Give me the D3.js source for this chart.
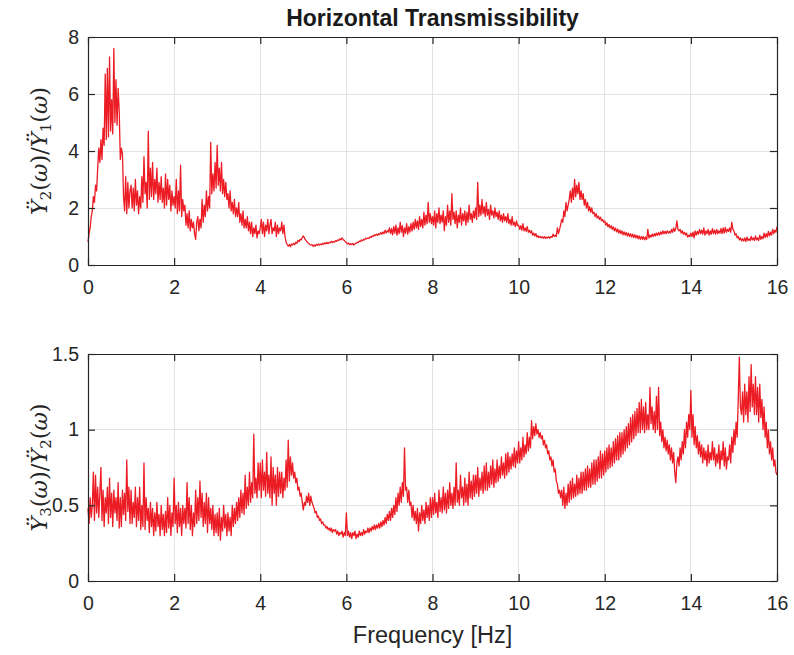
<!DOCTYPE html>
<html><head><meta charset="utf-8">
<script src="https://cdn.jsdelivr.net/npm/d3@7"></script>
<style>body{margin:0;background:#fff}</style>
</head><body>
<svg id="c" width="794" height="655"></svg>
<script>
// Frequency range [Hz]; samples are evenly spaced over it (0.025 Hz)
const freqRange = [0, 16];
// Top: Y2/Y1 transmissibility
const trans21 = [
0.8,1.1,1.3,1.7,1.9,2.4,2.2,2.8,2.6,3.4,
4.1,3.6,4.4,3.7,4.8,4.2,6.7,4.4,6.9,4.5,
7.3,4.7,5.8,4.6,7.6,5.0,6.5,4.9,6.2,5.4,
3.7,4.1,3.9,2.4,1.9,3.1,1.8,2.9,2.0,2.6,
2.8,2.0,2.7,1.9,3.0,2.1,2.6,1.8,2.4,2.0,
3.1,2.2,3.8,2.5,2.9,2.0,4.7,2.3,3.4,2.4,
3.6,2.3,3.0,2.5,3.4,2.2,2.9,2.3,3.1,2.2,
2.7,2.0,3.2,2.1,3.0,2.3,2.8,1.9,2.6,2.1,
2.4,2.0,3.0,1.8,2.6,1.9,3.5,1.7,2.3,1.9,
2.1,1.4,1.8,1.3,1.9,1.2,1.6,1.3,1.5,1.1,
0.9,1.5,1.7,1.2,1.6,1.3,2.3,1.5,2.1,1.7,
2.6,1.9,2.4,2.0,4.3,2.5,3.2,2.6,3.6,2.7,
4.2,2.8,3.4,2.6,3.6,2.5,3.0,2.4,2.9,2.3,
2.5,2.0,2.6,1.9,2.2,1.8,2.3,1.7,2.0,1.7,
2.2,1.5,1.8,1.4,1.9,1.3,1.6,1.3,1.7,1.2,
1.5,1.1,1.5,1.0,1.3,1.1,1.4,0.95,1.2,1.1,
1.3,1.6,1.1,1.5,1.0,1.4,1.2,1.6,1.1,1.4,
1.6,1.1,1.3,1.2,1.5,1.0,1.4,1.1,1.3,1.2,
1.5,1.1,1.4,1.0,0.8,0.72,0.66,0.72,0.64,0.74,
0.7,0.76,0.72,0.8,0.76,0.86,0.82,0.9,0.88,0.96,
1.02,0.95,0.88,0.84,0.78,0.76,0.72,0.7,0.72,0.66,
0.7,0.66,0.72,0.69,0.74,0.7,0.73,0.71,0.76,0.73,
0.78,0.74,0.79,0.75,0.8,0.78,0.83,0.79,0.82,0.8,
0.86,0.83,0.88,0.86,0.92,0.88,0.95,0.9,0.86,0.82,
0.78,0.74,0.77,0.71,0.75,0.72,0.76,0.7,0.74,0.76,
0.8,0.78,0.84,0.82,0.88,0.85,0.9,0.88,0.94,0.92,
0.95,0.93,0.99,0.97,1.02,1.0,1.06,1.03,1.08,1.04,
1.1,1.07,1.14,1.08,1.16,1.1,1.22,1.12,1.2,1.16,
1.3,1.1,1.28,1.06,1.35,1.12,1.4,1.05,1.3,1.1,
1.5,1.15,1.38,1.0,1.3,1.12,1.45,1.08,1.35,1.15,
1.45,1.2,1.5,1.25,1.6,1.3,1.55,1.25,1.7,1.35,
1.6,1.3,1.85,1.4,1.75,1.45,2.2,1.5,1.8,1.45,
1.7,1.4,1.9,1.3,1.8,1.5,2.0,1.45,1.75,1.5,
1.9,1.2,1.7,1.4,2.1,1.5,1.9,1.4,2.5,1.6,
1.85,1.45,1.9,1.3,1.75,1.5,2.0,1.4,1.8,1.55,
1.9,1.4,1.85,1.5,2.1,1.6,1.8,1.5,1.9,1.65,
2.0,1.6,2.9,1.7,2.1,1.75,2.3,1.8,2.05,1.7,
2.2,1.75,1.95,1.6,2.1,1.75,1.9,1.65,2.0,1.7,
1.85,1.6,1.9,1.55,1.75,1.5,1.8,1.55,1.7,1.5,
1.8,1.45,1.6,1.4,1.7,1.4,1.5,1.35,1.55,1.38,
1.4,1.25,1.38,1.22,1.45,1.2,1.3,1.18,1.35,1.15,
1.22,1.12,1.2,1.05,1.12,1.02,1.1,0.98,1.03,0.96,
1.0,0.95,0.99,0.94,1.0,0.93,0.98,0.95,0.99,0.94,
1.0,0.97,1.08,1.0,1.05,1.0,1.3,1.1,1.25,1.4,
1.6,1.5,1.9,1.7,2.2,1.9,2.1,2.3,2.6,2.2,
2.7,2.3,3.0,2.4,2.8,2.5,2.9,2.3,2.6,2.3,
2.5,2.1,2.3,2.0,2.2,1.9,2.05,1.85,2.0,1.8,
1.85,1.7,1.8,1.65,1.72,1.6,1.68,1.55,1.6,1.5,
1.55,1.4,1.48,1.34,1.42,1.3,1.38,1.25,1.34,1.2,
1.3,1.16,1.26,1.12,1.22,1.1,1.2,1.06,1.16,1.05,
1.14,1.02,1.12,1.0,1.1,0.98,1.08,0.96,1.06,0.95,
1.04,0.92,1.02,0.9,1.0,0.9,1.0,0.88,0.98,0.9,
1.25,0.95,1.05,0.98,1.08,1.0,1.1,1.02,1.12,1.04,
1.14,1.05,1.16,1.08,1.2,1.1,1.18,1.1,1.2,1.12,
1.18,1.12,1.25,1.15,1.3,1.18,1.28,1.55,1.25,1.2,
1.25,1.12,1.2,1.08,1.15,1.05,1.12,0.98,1.05,1.0,
1.12,1.0,1.15,0.95,1.2,1.05,1.18,1.08,1.25,1.1,
1.22,1.08,1.3,1.05,1.2,1.1,1.25,1.05,1.2,1.08,
1.28,1.1,1.22,1.08,1.25,1.1,1.2,1.12,1.28,1.1,
1.3,1.12,1.32,1.15,1.25,1.18,1.3,1.15,1.5,1.25,
1.2,1.05,1.1,0.95,1.0,0.88,0.95,0.85,0.92,0.84,
0.95,0.82,0.98,0.86,0.92,0.85,1.0,0.88,0.95,0.86,
1.02,0.88,0.95,0.86,1.05,0.9,1.0,0.92,1.12,0.96,
1.1,0.98,1.18,1.02,1.15,1.05,1.25,1.1,1.22,1.15,
1.35
];
// Bottom: Y3/Y2 transmissibility
const trans32 = [
0.48,0.38,0.55,0.42,0.5,0.72,0.4,0.7,0.45,0.62,
0.42,0.58,0.75,0.4,0.6,0.36,0.55,0.45,0.62,0.38,
0.68,0.42,0.58,0.36,0.6,0.45,0.55,0.4,0.65,0.35,
0.55,0.36,0.6,0.44,0.58,0.4,0.8,0.46,0.62,0.38,
0.6,0.38,0.52,0.42,0.62,0.36,0.55,0.4,0.62,0.34,
0.5,0.36,0.78,0.34,0.55,0.4,0.48,0.32,0.52,0.36,
0.48,0.3,0.45,0.33,0.52,0.36,0.44,0.3,0.5,0.34,
0.44,0.3,0.46,0.32,0.55,0.35,0.5,0.3,0.45,0.36,
0.68,0.38,0.5,0.32,0.52,0.36,0.48,0.3,0.5,0.38,
0.48,0.35,0.65,0.38,0.55,0.34,0.5,0.3,0.45,0.36,
0.6,0.38,0.55,0.4,0.66,0.42,0.58,0.36,0.52,0.38,
0.58,0.32,0.55,0.38,0.48,0.34,0.5,0.3,0.44,0.32,
0.45,0.3,0.48,0.27,0.42,0.33,0.5,0.35,0.44,0.3,
0.45,0.33,0.42,0.3,0.5,0.36,0.48,0.38,0.52,0.4,
0.55,0.42,0.6,0.45,0.58,0.44,0.7,0.48,0.62,0.5,
0.72,0.52,0.65,0.55,0.97,0.58,0.68,0.55,0.78,0.6,
0.78,0.55,0.8,0.6,0.72,0.56,0.85,0.58,0.7,0.55,
0.82,0.5,0.75,0.58,0.7,0.5,0.75,0.56,0.72,0.58,
0.72,0.55,0.68,0.6,0.8,0.62,0.93,0.66,0.82,0.7,
0.78,0.68,0.72,0.65,0.68,0.6,0.62,0.56,0.58,0.52,
0.47,0.52,0.5,0.56,0.52,0.58,0.5,0.56,0.52,0.5,
0.48,0.45,0.46,0.42,0.43,0.4,0.41,0.38,0.39,0.37,
0.37,0.35,0.36,0.34,0.35,0.33,0.35,0.32,0.34,0.33,
0.34,0.31,0.33,0.3,0.32,0.31,0.33,0.29,0.32,0.3,
0.45,0.3,0.33,0.29,0.32,0.28,0.32,0.3,0.33,0.28,
0.31,0.29,0.33,0.3,0.32,0.3,0.34,0.31,0.33,0.32,
0.35,0.32,0.35,0.33,0.36,0.34,0.37,0.34,0.37,0.35,
0.38,0.35,0.39,0.36,0.4,0.37,0.42,0.38,0.44,0.4,
0.46,0.4,0.48,0.42,0.5,0.44,0.55,0.46,0.58,0.5,
0.62,0.52,0.65,0.56,0.88,0.6,0.62,0.52,0.6,0.5,
0.52,0.42,0.5,0.4,0.46,0.38,0.48,0.33,0.45,0.38,
0.5,0.4,0.47,0.38,0.52,0.42,0.5,0.4,0.55,0.42,
0.55,0.44,0.58,0.45,0.52,0.42,0.6,0.46,0.55,0.45,
0.62,0.47,0.58,0.45,0.6,0.48,0.65,0.5,0.58,0.48,
0.62,0.5,0.78,0.52,0.6,0.5,0.7,0.55,0.62,0.5,
0.68,0.52,0.64,0.5,0.72,0.55,0.66,0.54,0.7,0.56,
0.7,0.58,0.75,0.56,0.68,0.6,0.72,0.58,0.76,0.6,
0.78,0.6,0.72,0.62,0.76,0.64,0.8,0.62,0.74,0.65,
0.8,0.66,0.76,0.68,0.82,0.7,0.78,0.68,0.84,0.7,
0.85,0.72,0.82,0.74,0.84,0.76,0.88,0.75,0.86,0.78,
0.92,0.78,0.88,0.8,0.95,0.82,0.9,0.84,0.98,0.86,
0.95,0.88,1.06,0.94,1.02,0.96,1.04,0.97,1.0,0.95,
0.98,0.94,0.96,0.9,0.93,0.88,0.9,0.84,0.86,0.8,
0.82,0.76,0.8,0.72,0.74,0.66,0.64,0.58,0.6,0.55,
0.6,0.5,0.62,0.48,0.58,0.5,0.64,0.52,0.66,0.54,
0.68,0.55,0.64,0.56,0.7,0.57,0.68,0.58,0.72,0.58,
0.72,0.6,0.74,0.6,0.76,0.62,0.74,0.62,0.78,0.64,
0.8,0.64,0.8,0.66,0.82,0.68,0.86,0.68,0.84,0.7,
0.86,0.72,0.88,0.74,0.9,0.75,0.88,0.76,0.92,0.78,
0.94,0.8,0.96,0.8,0.98,0.82,0.98,0.84,1.0,0.86,
1.02,0.88,1.04,0.9,1.08,0.92,1.1,0.94,1.12,0.96,
1.14,0.98,1.18,0.98,1.2,1.0,1.15,0.98,1.18,1.0,
1.1,1.0,1.28,1.04,1.15,1.0,1.12,0.98,1.22,1.0,
1.28,0.96,1.05,0.92,1.0,0.88,0.95,0.86,0.93,0.84,
0.9,0.8,0.88,0.78,0.85,0.72,0.65,0.78,0.82,0.76,
0.88,0.8,0.92,0.84,1.0,0.88,1.05,0.95,1.1,1.0,
1.26,0.95,1.1,0.9,1.02,0.88,0.96,0.84,0.92,0.82,
0.9,0.78,0.88,0.8,0.86,0.76,0.9,0.78,0.85,0.8,
0.92,0.8,0.88,0.76,0.84,0.78,0.9,0.74,0.86,0.8,
0.92,0.76,0.88,0.74,0.82,0.8,0.9,0.78,0.95,0.85,
1.0,0.9,1.05,0.95,1.2,1.48,1.15,1.1,1.25,1.05,
1.3,1.1,1.25,1.05,1.35,1.12,1.43,1.15,1.3,1.1,
1.35,1.1,1.28,1.05,1.3,1.08,1.2,1.0,1.15,0.95,
1.05,0.88,1.0,0.84,0.92,0.8,0.88,0.76,0.8,0.72,
0.7
];
const xTicks = [0,2,4,6,8,10,12,14,16];
const yTicksTop = [0,2,4,6,8];
const yTicksBot = [0,0.5,1,1.5];
const titleText = "Horizontal Transmissibility";
const xLabelText = "Frequency [Hz]";

const svg = d3.select("#c");
const axisColor = "#262626";
const gridColor = "#e3e3e3";
const lineColor = "#ec1c24";
const sans = "Liberation Sans, Arial, sans-serif";
const L = 88, R = 777;

function panel(data, yDomain, yTicks, top, bottom, sub1, sub2, fmt) {
  const x = d3.scaleLinear().domain(freqRange).range([L,R]);
  const y = d3.scaleLinear().domain(yDomain).range([bottom, top]);
  const step = (freqRange[1]-freqRange[0])/(data.length-1);
  const g = svg.append("g");
  g.selectAll(".gx").data(xTicks.slice(1,-1)).join("line")
    .attr("x1",d=>x(d)).attr("x2",d=>x(d)).attr("y1",top).attr("y2",bottom)
    .attr("stroke",gridColor).attr("stroke-width",1).attr("shape-rendering","crispEdges");
  g.selectAll(".gy").data(yTicks.slice(1,-1)).join("line")
    .attr("y1",d=>y(d)).attr("y2",d=>y(d)).attr("x1",L).attr("x2",R)
    .attr("stroke",gridColor).attr("stroke-width",1).attr("shape-rendering","crispEdges");
  const line = d3.line().x((d,i)=>x(freqRange[0]+i*step)).y(d=>y(d));
  g.append("path").datum(data).attr("d",line).attr("fill","none")
    .attr("stroke",lineColor).attr("stroke-width",1.3).attr("stroke-linejoin","round");
  const tl = 7;
  const axB = d3.axisBottom(x).tickValues(xTicks).tickSizeInner(-tl).tickSizeOuter(0).tickPadding(15).tickFormat(d3.format("d"));
  const axT = d3.axisTop(x).tickValues(xTicks).tickSizeInner(-tl).tickSizeOuter(0).tickFormat("");
  const axL = d3.axisLeft(y).tickValues(yTicks).tickSizeInner(-tl).tickSizeOuter(0).tickPadding(9).tickFormat(fmt);
  const axR = d3.axisRight(y).tickValues(yTicks).tickSizeInner(-tl).tickSizeOuter(0).tickFormat("");
  [[axB,`translate(0,${bottom})`],[axT,`translate(0,${top})`],[axL,`translate(${L},0)`],[axR,`translate(${R},0)`]].forEach(([a,t])=>{
    const ag = g.append("g").attr("transform",t).call(a);
    ag.select(".domain").attr("stroke",axisColor).attr("stroke-width",1.2);
    ag.selectAll(".tick line").attr("stroke",axisColor).attr("stroke-width",1.2);
    ag.selectAll(".tick text").attr("fill",axisColor).attr("font-family",sans).attr("font-size",19.5);
  });
  const cy = (top+bottom)/2;
  const fs = 22.5, ss = 15;
  const t = g.append("text").attr("transform",`translate(47,${cy}) rotate(-90)`)
    .attr("text-anchor","middle").attr("fill",axisColor)
    .attr("font-family","DejaVu Serif, Liberation Serif, serif").attr("font-size",fs);
  const parts = [["Ÿ","italic",0,fs],[sub1,"normal",4,ss],["(","normal",-4,fs],["ω","italic",0,fs],[")/","normal",0,fs],
                 ["Ÿ","italic",0,fs],[sub2,"normal",4,ss],["(","normal",-4,fs],["ω","italic",0,fs],[")","normal",0,fs]];
  parts.forEach(([s,st,dy,f])=>t.append("tspan").attr("font-style",st).attr("dy",dy).attr("font-size",f).text(s));
}
panel(trans21,[0,8],yTicksTop,37,265,"2","1",d3.format("d"));
panel(trans32,[0,1.5],yTicksBot,354,581,"3","2",d=>d3.format("")(d));
svg.append("text").attr("x",(L+R)/2).attr("y",643).attr("text-anchor","middle")
  .attr("fill",axisColor).attr("font-family",sans).attr("font-size",23.5).text(xLabelText);
svg.append("text").attr("x",(L+R)/2).attr("y",26).attr("text-anchor","middle")
  .attr("fill","#1a1a1a").attr("font-family",sans).attr("font-weight","bold").attr("font-size",23).text(titleText);
</script>
</body></html>
